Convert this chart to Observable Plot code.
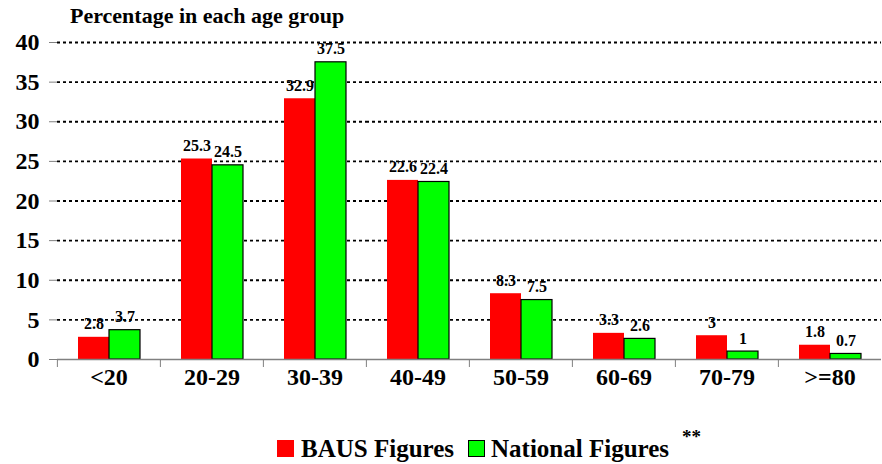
<!DOCTYPE html>
<html>
<head>
<meta charset="utf-8">
<script src="https://cdn.jsdelivr.net/npm/d3@7"></script>
<script src="https://cdn.jsdelivr.net/npm/@observablehq/plot@0.6"></script>
<style>
  html, body { margin: 0; padding: 0; background: white; }
  #wrap { position: relative; width: 882px; height: 464px; font-family: "Liberation Serif", "Times New Roman", serif; font-weight: bold; color: black; }
  #chart { position: absolute; left: 0; top: 0; }
  .lbl { position: absolute; white-space: nowrap; line-height: 1; }
  #title { left: 70px; top: 5px; font-size: 22px; }
  .sw { position: absolute; width: 17px; height: 17px; box-sizing: border-box; }
  .leg { font-size: 25px; top: 436px; }
  #stars { left: 682px; top: 427px; font-size: 19px; }
</style>
</head>
<body>
<div id="wrap">
  <div id="chart"></div>
  <div id="title" class="lbl">Percentage in each age group</div>
  <div id="legend"></div>
  <div id="stars" class="lbl">**</div>
</div>
<script>
const ages = ["<20", "20-29", "30-39", "40-49", "50-59", "60-69", "70-79", ">=80"];
const bausValues = [2.8, 25.3, 32.9, 22.6, 8.3, 3.3, 3, 1.8];
const nationalValues = [3.7, 24.5, 37.5, 22.4, 7.5, 2.6, 1, 0.7];
const seriesNames = ["BAUS Figures", "National Figures"];
const seriesColors = ["#ff0000", "#00ff00"];
const yTicks = [0, 5, 10, 15, 20, 25, 30, 35, 40];

const data = ages.flatMap((age, i) => [
  {age, series: seriesNames[0], value: bausValues[i]},
  {age, series: seriesNames[1], value: nationalValues[i]}
]);

const chart = Plot.plot({
  width: 882,
  height: 464,
  marginTop: 42,
  marginBottom: 105,
  marginLeft: 56,
  marginRight: 0,
  style: {fontFamily: "'Liberation Serif', 'Times New Roman', serif", background: "white", color: "black"},
  fx: {domain: ages, padding: 0, label: null},
  x: {domain: seriesNames, paddingInner: 0, paddingOuter: 0.66, axis: null},
  y: {domain: [0, 40], label: null},
  color: {domain: seriesNames, range: seriesColors},
  marks: [
    Plot.ruleY(yTicks.filter(d => d > 0), {stroke: "black", strokeWidth: 1.8, strokeDasharray: "3,3"}),
    Plot.barY(data, {filter: d => d.series === seriesNames[0], fx: "age", x: "series", y: "value", fill: "series"}),
    Plot.barY(data, {filter: d => d.series === seriesNames[1], fx: "age", x: "series", y: "value", fill: "series", stroke: "black", strokeWidth: 1.2}),
    Plot.ruleY([0], {stroke: "#808080", strokeWidth: 1.5}),
    Plot.text(data, {fx: "age", x: "series", y: "value", text: d => String(d.value), dy: -8, lineAnchor: "bottom", fontSize: 16, fontWeight: "bold", fill: "black"}),
    Plot.axisY({ticks: yTicks, tickSize: 8, tickPadding: 10, stroke: "#808080", fill: "black", fontSize: 24, fontWeight: "bold", label: null, line: true}),
    Plot.axisFx({anchor: "bottom", tickSize: 0, tickPadding: 8, fontSize: 24, fontWeight: "bold", fill: "black", label: null}),
    Plot.axisFx({anchor: "bottom", text: null, tickSize: 8, dx: -51.625, stroke: "#808080", label: null})
  ]
});
document.getElementById("chart").appendChild(chart);

const legend = d3.select("#legend");
const swLeft = [277, 468];
const textLeft = [301, 491];
seriesNames.forEach((name, i) => {
  legend.append("div").attr("class", "sw")
    .style("left", swLeft[i] + "px").style("top", "440px")
    .style("background", seriesColors[i])
    .style("border", i === 1 ? "1.5px solid black" : "none");
  legend.append("div").attr("class", "lbl leg")
    .style("left", textLeft[i] + "px")
    .text(name);
});
</script>
</body>
</html>
